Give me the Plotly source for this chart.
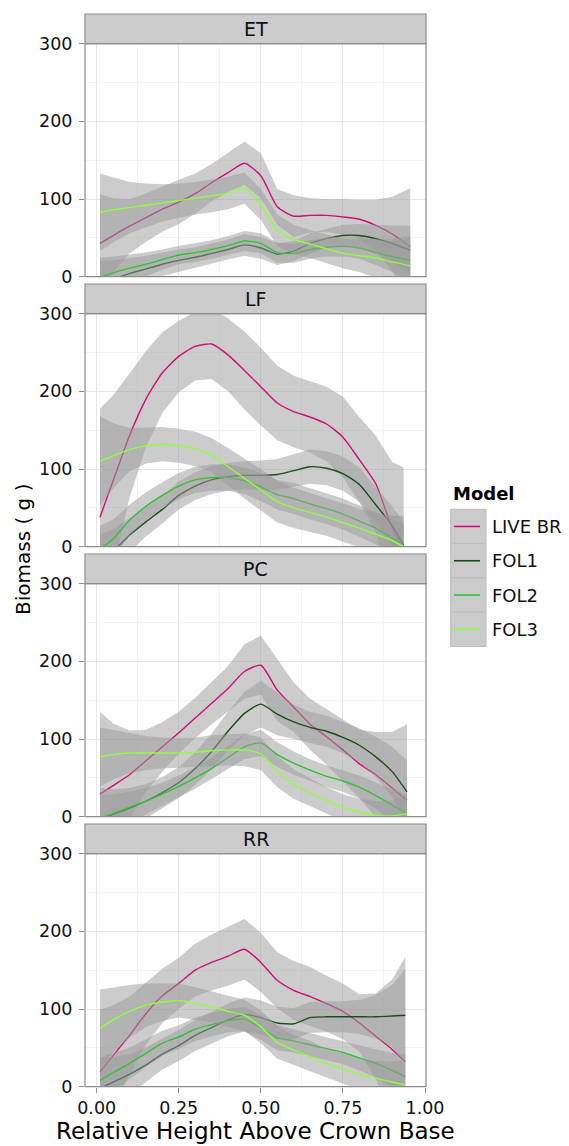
import plotly.graph_objects as go

# ---- data -----------------------------------------------------------------
SPECIES = ["ET", "LF", "PC", "RR"]
MODELS = ["LIVE BR", "FOL1", "FOL2", "FOL3"]
COLORS = ["#CD1076", "#1B4D1B", "#33C233", "#8CFF40"]

X_COMMON = [0.01, 0.05, 0.10, 0.15, 0.20, 0.25, 0.30, 0.35, 0.40, 0.45,
            0.50, 0.55, 0.60, 0.65, 0.70, 0.75, 0.80, 0.85, 0.90]
X_END = {"ET": 0.955, "LF": 0.935, "PC": 0.945, "RR": 0.94}

# smoothed biomass (g) per model
ET_FIT = {
    "LIVE BR": [43, 53, 65, 76, 87, 96, 107, 121, 134, 146, 130, 90, 78, 79, 79, 77, 74, 66, 55, 39],
    "FOL1":    [-7, -3, 4, 10, 16, 21, 25, 30, 35, 41, 37, 29, 33, 43, 49, 53, 53, 49, 43, 34],
    "FOL2":    [-1, 5, 11, 16, 22, 28, 31, 35, 40, 46, 43, 31, 30, 35, 38, 39, 37, 31, 26, 21],
    "FOL3":    [83, 86, 89, 92, 95, 98, 101, 104, 108, 114, 93, 60, 48, 42, 36, 30, 27, 24, 19, 14],
}
LF_FIT = {
    "LIVE BR": [38, 85, 143, 190, 224, 245, 258, 261, 247, 227, 206, 185, 174, 167, 158, 141, 112, 81, 24, -3],
    "FOL1":    [-20, -6, 15, 32, 48, 66, 78, 86, 90, 92, 92, 93, 98, 103, 101, 94, 80, 54, 27, 2],
    "FOL2":    [-3, 10, 34, 52, 66, 78, 86, 89, 89, 85, 77, 67, 62, 55, 49, 42, 33, 24, 11, 1],
    "FOL3":    [110, 117, 125, 130, 132, 130, 126, 118, 103, 88, 73, 58, 50, 44, 38, 31, 24, 16, 8, 0],
}
PC_FIT = {
    "LIVE BR": [29, 40, 54, 72, 90, 108, 127, 146, 165, 187, 195, 163, 141, 119, 103, 86, 68, 54, 37, 21],
    "FOL1":    [-3, 3, 11, 20, 31, 44, 62, 84, 110, 133, 145, 132, 122, 115, 110, 102, 92, 77, 58, 32],
    "FOL2":    [-2, 4, 12, 20, 29, 39, 50, 62, 76, 90, 95, 80, 69, 60, 52, 46, 38, 27, 15, 4],
    "FOL3":    [77, 80, 82, 82, 82, 82, 83, 85, 86, 86, 81, 58, 42, 31, 21, 12, 6, 2, 1, 4],
}
RR_FIT = {
    "LIVE BR": [19, 40, 66, 94, 117, 133, 150, 160, 168, 177, 160, 137, 124, 116, 107, 97, 82, 65, 48, 32],
    "FOL1":    [-2, 6, 16, 28, 42, 53, 66, 76, 86, 93, 89, 82, 81, 89, 90, 90, 90, 90, 91, 92],
    "FOL2":    [8, 18, 30, 43, 56, 64, 74, 80, 85, 87, 76, 63, 59, 54, 49, 44, 37, 30, 21, 13],
    "FOL3":    [75, 86, 97, 105, 109, 111, 107, 103, 97, 92, 77, 57, 47, 39, 30, 23, 16, 11, 6, 2],
}

# half-width of the confidence band around each fit
ET_BAND = {
    "LIVE BR": [63, 48, 35, 31, 29, 28, 26, 24, 25, 28, 29, 23, 27, 22, 21, 23, 25, 33, 48, 75],
    "FOL1":    [28, 24, 20, 17, 15, 14, 13, 13, 13, 14, 14, 14, 13, 13, 13, 14, 15, 18, 23, 32],
    "FOL2":    [25, 21, 18, 15, 13, 12, 12, 12, 12, 13, 13, 13, 12, 12, 12, 13, 14, 16, 20, 28],
    "FOL3":    [50, 42, 33, 28, 24, 22, 21, 21, 21, 20, 20, 20, 19, 18, 18, 19, 21, 25, 30, 38],
}
LF_BAND = {
    "LIVE BR": [140, 110, 80, 62, 52, 46, 44, 45, 47, 50, 50, 48, 46, 46, 48, 52, 55, 62, 85, 105],
    "FOL1":    [35, 28, 22, 19, 18, 18, 18, 18, 18, 18, 19, 20, 21, 22, 22, 22, 22, 22, 25, 30],
    "FOL2":    [30, 25, 20, 18, 17, 17, 17, 17, 17, 17, 18, 19, 20, 20, 20, 20, 20, 21, 24, 28],
    "FOL3":    [58, 42, 28, 23, 22, 22, 22, 22, 24, 26, 27, 27, 26, 25, 24, 24, 25, 27, 32, 40],
}
PC_BAND = {
    "LIVE BR": [106, 80, 57, 40, 32, 27, 26, 27, 29, 35, 38, 40, 32, 33, 36, 40, 44, 55, 72, 98],
    "FOL1":    [40, 32, 26, 22, 20, 20, 21, 23, 25, 28, 30, 27, 22, 20, 20, 20, 22, 26, 32, 40],
    "FOL2":    [30, 25, 20, 17, 15, 14, 14, 14, 15, 16, 17, 16, 15, 14, 14, 14, 15, 17, 20, 25],
    "FOL3":    [38, 32, 26, 22, 20, 19, 19, 20, 20, 21, 21, 20, 19, 18, 17, 17, 17, 18, 20, 24],
}
RR_BAND = {
    "LIVE BR": [80, 65, 50, 40, 35, 33, 34, 36, 38, 39, 38, 36, 38, 38, 36, 36, 37, 55, 90, 135],
    "FOL1":    [40, 32, 26, 22, 20, 20, 20, 20, 21, 22, 22, 21, 20, 20, 20, 20, 22, 28, 40, 60],
    "FOL2":    [30, 25, 20, 18, 16, 15, 15, 15, 15, 16, 16, 16, 15, 15, 15, 15, 16, 18, 22, 28],
    "FOL3":    [50, 42, 34, 28, 24, 22, 21, 20, 20, 20, 21, 21, 20, 20, 19, 19, 20, 22, 26, 32],
}

FITS = {"ET": ET_FIT, "LF": LF_FIT, "PC": PC_FIT, "RR": RR_FIT}
BANDS = {"ET": ET_BAND, "LF": LF_BAND, "PC": PC_BAND, "RR": RR_BAND}

X_TICKS = [0.0, 0.25, 0.5, 0.75, 1.0]
X_TICK_TEXT = ["0.00", "0.25", "0.50", "0.75", "1.00"]
Y_TICKS = [0, 100, 200, 300]

# ---- layout geometry (pixels) ---------------------------------------------
W, H = 569, 1146
PLOT_L, PLOT_R = 85, 426
PANEL_TOPS = [43.7, 313.7, 583.7, 853.7]
PANEL_H = 233.0
STRIP_H = 29.7
FONT = "DejaVu Sans"
TXT = "#111111"
BORDER = "#8C8C8C"
RIBBON = "rgba(153,153,153,0.5)"


def px_x(p):
    return p / W


def px_y(p):
    return 1 - p / H


fig = go.Figure()
shapes = []
annotations = []

for i, sp in enumerate(SPECIES):
    n = i + 1
    xa = "x" if n == 1 else f"x{n}"
    ya = "y" if n == 1 else f"y{n}"
    xs = X_COMMON + [X_END[sp]]
    for m, col in zip(MODELS, COLORS):
        fit = FITS[sp][m]
        band = BANDS[sp][m]
        upper = [f + b for f, b in zip(fit, band)]
        lower = [f - b for f, b in zip(fit, band)]
        fig.add_trace(go.Scatter(
            x=xs + xs[::-1], y=upper + lower[::-1], xaxis=xa, yaxis=ya,
            mode="lines", fill="toself", fillcolor=RIBBON,
            line=dict(width=0, color="rgba(0,0,0,0)"),
            hoverinfo="skip", showlegend=False))
        fig.add_trace(go.Scatter(
            x=xs, y=fit, xaxis=xa, yaxis=ya, mode="lines", name=m,
            line=dict(color=col, width=1.4, shape="spline", smoothing=0.6),
            showlegend=False))

    top = PANEL_TOPS[i]
    bottom = top + PANEL_H
    last = n == len(SPECIES)
    fig.layout[f"xaxis{'' if n == 1 else n}"] = dict(
        domain=[px_x(PLOT_L), px_x(PLOT_R)], anchor=ya, automargin=False,
        range=[-0.0356, 1.003], tickvals=X_TICKS, ticktext=X_TICK_TEXT,
        showticklabels=last, ticks="outside" if last else "",
        ticklen=5, tickcolor=BORDER,
        tickfont=dict(family=FONT, size=17.5, color=TXT),
        showgrid=True, gridcolor="#E6E6E6", gridwidth=1,
        minor=dict(dtick=0.125, tick0=0, showgrid=True,
                   gridcolor="#F3F3F3", gridwidth=1),
        zeroline=False, showline=False, fixedrange=True)
    fig.layout[f"yaxis{'' if n == 1 else n}"] = dict(
        domain=[px_y(bottom), px_y(top)], anchor=xa, automargin=False,
        range=[0, 300], tickvals=Y_TICKS, ticks="outside",
        ticklen=5, tickcolor=BORDER, ticklabelstandoff=3,
        tickfont=dict(family=FONT, size=17.5, color=TXT),
        showgrid=True, gridcolor="#E6E6E6", gridwidth=1,
        minor=dict(dtick=50, tick0=0, showgrid=True,
                   gridcolor="#F3F3F3", gridwidth=1),
        zeroline=False, showline=False, fixedrange=True)

    # panel border
    shapes.append(dict(type="rect", xref="paper", yref="paper",
                       x0=px_x(PLOT_L), x1=px_x(PLOT_R),
                       y0=px_y(bottom), y1=px_y(top),
                       line=dict(color=BORDER, width=1.2), layer="above"))
    # facet strip
    shapes.append(dict(type="rect", xref="paper", yref="paper",
                       x0=px_x(PLOT_L), x1=px_x(PLOT_R),
                       y0=px_y(top), y1=px_y(top - STRIP_H),
                       fillcolor="#CCCCCC",
                       line=dict(color=BORDER, width=1.2), layer="above"))
    annotations.append(dict(
        text=sp, xref="paper", yref="paper",
        x=px_x((PLOT_L + PLOT_R) / 2), y=px_y(top - STRIP_H / 2),
        xanchor="center", yanchor="middle", showarrow=False,
        font=dict(family=FONT, size=19, color=TXT)))

# axis titles
annotations.append(dict(
    text="Relative Height Above Crown Base", xref="paper", yref="paper",
    x=px_x((PLOT_L + PLOT_R) / 2), y=px_y(1131),
    xanchor="center", yanchor="middle", showarrow=False,
    font=dict(family=FONT, size=23, color="#000000")))
annotations.append(dict(
    text="Biomass ( g )", xref="paper", yref="paper",
    x=px_x(23), y=px_y(550), textangle=-90,
    xanchor="center", yanchor="middle", showarrow=False,
    font=dict(family=FONT, size=20, color="#000000")))

# legend drawn as keys beside the panels
LEG_X0, LEG_X1 = 450.7, 486.0
LEG_TOP, KEY_H = 509.3, 34.3
annotations.append(dict(
    text="<b>Model</b>", xref="paper", yref="paper",
    x=px_x(451), y=px_y(493), xanchor="left", yanchor="middle",
    showarrow=False, font=dict(family=FONT, size=18, color="#000000")))
for k, (m, col) in enumerate(zip(MODELS, COLORS)):
    y0 = LEG_TOP + k * KEY_H
    yc = y0 + KEY_H / 2
    shapes.append(dict(type="rect", xref="paper", yref="paper",
                       x0=px_x(LEG_X0), x1=px_x(LEG_X1),
                       y0=px_y(y0 + KEY_H), y1=px_y(y0),
                       fillcolor="#CBCBCB",
                       line=dict(color="#BDBDBD", width=1)))
    shapes.append(dict(type="line", xref="paper", yref="paper",
                       x0=px_x(454), x1=px_x(480), y0=px_y(yc), y1=px_y(yc),
                       line=dict(color=col, width=1.6)))
    annotations.append(dict(
        text=m, xref="paper", yref="paper",
        x=px_x(490), y=px_y(yc), xanchor="left", yanchor="middle",
        showarrow=False, font=dict(family=FONT, size=18, color=TXT)))

fig.update_layout(
    width=W, height=H, autosize=False,
    margin=dict(l=0, r=0, t=0, b=0, autoexpand=False),
    paper_bgcolor="white", plot_bgcolor="white",
    showlegend=False, shapes=shapes, annotations=annotations,
)

fig.write_html("out.html")
